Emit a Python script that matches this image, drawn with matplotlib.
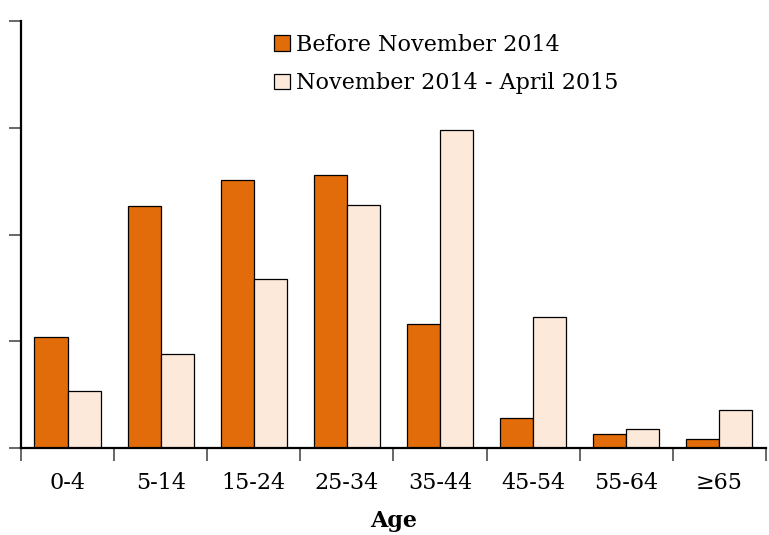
import numpy as np
import matplotlib
matplotlib.use("Agg")
import matplotlib.pyplot as plt

plt.rcParams.update({
    "font.family": ["DejaVu Serif"],
    "font.size": 16,
})

# ---------------------------------------------------------------------
# DATA (% of cases per age group)
# ---------------------------------------------------------------------
AGE_GROUPS = ["0-4", "5-14", "15-24", "25-34", "35-44", "45-54", "55-64", "≥65"]
BEFORE_NOV_2014 = [10.4, 22.7, 25.1, 25.6, 11.6, 2.8, 1.3, 0.8]
NOV2014_APR2015 = [5.3, 8.8, 15.8, 22.8, 29.8, 12.3, 1.8, 3.6]
Y_TICKS = [0, 10, 20, 30, 40]

COLOR_BEFORE = "#E36C0A"
COLOR_AFTER = "#FDE9D9"

# ---------------------------------------------------------------------
fig = plt.figure(figsize=(7.69, 5.35), dpi=100)
ax = fig.add_axes([0.0273, 0.1626, 0.9687, 0.7981])

x = np.arange(len(AGE_GROUPS))
w = 0.355
ax.bar(x - w / 2, BEFORE_NOV_2014, width=w, color=COLOR_BEFORE,
       edgecolor="black", linewidth=0.9, label="Before November 2014")
ax.bar(x + w / 2, NOV2014_APR2015, width=w, color=COLOR_AFTER,
       edgecolor="black", linewidth=0.9, label="November 2014 - April 2015")

ax.set_xlim(-0.5, len(AGE_GROUPS) - 0.5)
ax.set_ylim(0, 40)
ax.set_yticks(Y_TICKS)
ax.set_yticklabels([])

# category boundaries as ticks, labels in the middle
ax.set_xticks(np.arange(len(AGE_GROUPS) + 1) - 0.5)
ax.set_xticklabels([])
ax.set_xticks(x, minor=True)
ax.set_xticklabels(AGE_GROUPS, minor=True)
ax.tick_params(axis="x", which="minor", length=0, pad=17)
ax.tick_params(axis="x", which="major", length=9, width=1.2, color="0.3")
ax.tick_params(axis="y", length=9, width=1.2, color="0.3")

for s in ["top", "right"]:
    ax.spines[s].set_visible(False)
for s in ["left", "bottom"]:
    ax.spines[s].set_linewidth(1.6)

ax.set_xlabel("Age", fontweight="bold", labelpad=12)

ax.legend(loc="upper left", bbox_to_anchor=(0.339, 0.962), bbox_transform=fig.transFigure,
          frameon=False, handlelength=0.7, handleheight=0.7, handletextpad=0.3,
          labelspacing=0.75, borderaxespad=0.2)

fig.savefig("out.png", dpi=100)
